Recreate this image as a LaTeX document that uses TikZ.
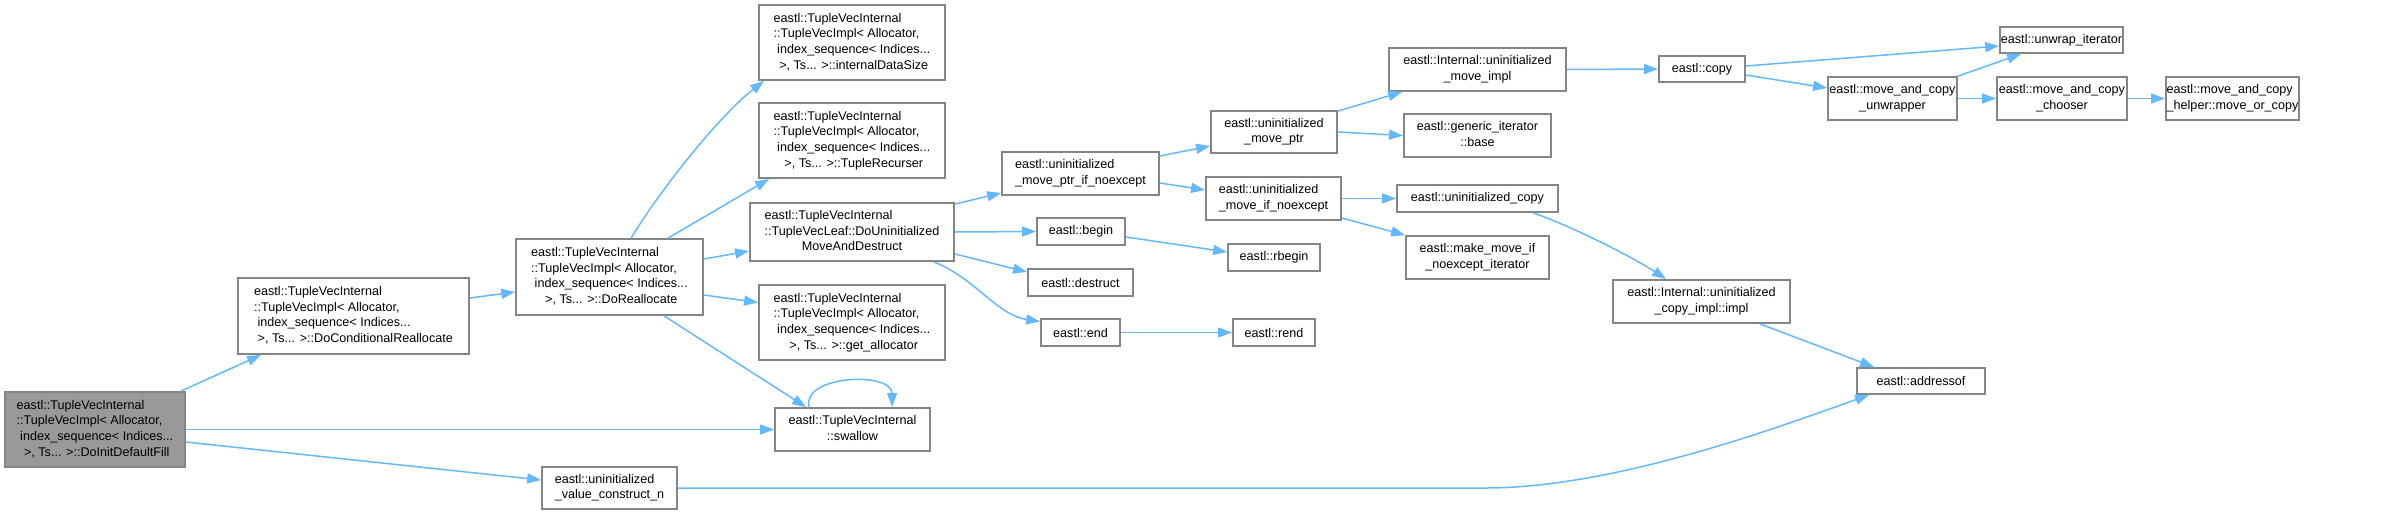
\documentclass[tikz,border=0pt]{standalone}
\usepackage{fontspec}
\setmainfont{Liberation Sans}
\usetikzlibrary{arrows.meta,calc}
\definecolor{edgeblue}{HTML}{63B8FF}
\definecolor{boxgray}{HTML}{858585}
\definecolor{rootfill}{HTML}{999999}
\newcommand\ltab[1]{\begin{tabular}{@{}l@{}}#1\end{tabular}}
\newcommand\lc[1]{\multicolumn{1}{@{}c@{}}{#1}}
\newcommand\gbox[7][]{\node[box,#1,minimum width={(#5-#3)*0.5pt},minimum height={(#6-#4)*0.5pt}] (#2) at ({(#3+#5)/2},{(#4+#6)/2}) {#7};}
\begin{document}
\begin{tikzpicture}[x=0.5pt,y=-0.5pt,
  box/.style={draw=boxgray,line width=0.9pt,fill=white,inner sep=0pt,font=\fontsize{6.3}{7.85}\selectfont},
  rootbox/.style={fill=rootfill},
  edge/.style={draw=edgeblue,line width=0.75pt,-{Triangle[length=7pt,width=5pt]}}]
\useasboundingbox (0,0) rectangle (2400,515);
\gbox[rootbox]{root}{5}{392}{185}{467}{\ltab{eastl::TupleVecInternal\\::TupleVecImpl< Allocator,\\\ index\_sequence< Indices...\\\lc{\ >, Ts... >::DoInitDefaultFill}}}
\gbox{DCR}{238}{278}{469}{354}{\ltab{eastl::TupleVecInternal\\::TupleVecImpl< Allocator,\\\ index\_sequence< Indices...\\\lc{\ >, Ts... >::DoConditionalReallocate}}}
\gbox{DR}{516}{239}{703}{315}{\ltab{eastl::TupleVecInternal\\::TupleVecImpl< Allocator,\\\ index\_sequence< Indices...\\\lc{\ >, Ts... >::DoReallocate}}}
\gbox{IDS}{759}{5}{945}{80}{\ltab{eastl::TupleVecInternal\\::TupleVecImpl< Allocator,\\\ index\_sequence< Indices...\\\lc{\ >, Ts... >::internalDataSize}}}
\gbox{TR}{759}{103}{945}{178}{\ltab{eastl::TupleVecInternal\\::TupleVecImpl< Allocator,\\\ index\_sequence< Indices...\\\lc{\ >, Ts... >::TupleRecurser}}}
\gbox{DUMAD}{750}{203}{954}{261}{\ltab{eastl::TupleVecInternal\\::TupleVecLeaf::DoUninitialized\\\lc{MoveAndDestruct}}}
\gbox{GA}{759}{285}{945}{360}{\ltab{eastl::TupleVecInternal\\::TupleVecImpl< Allocator,\\\ index\_sequence< Indices...\\\lc{\ >, Ts... >::get\_allocator}}}
\gbox{SW}{775}{408}{930}{451}{\ltab{eastl::TupleVecInternal\\\lc{::swallow}}}
\gbox{UVCN}{542}{467}{677}{509}{\ltab{eastl::uninitialized\\\lc{\_value\_construct\_n}}}
\gbox{MPIN}{1002}{152}{1159}{195}{\ltab{eastl::uninitialized\\\lc{\_move\_ptr\_if\_noexcept}}}
\gbox{BEGIN}{1037}{218}{1125}{245}{eastl::begin}
\gbox{DESTR}{1028}{269}{1133}{296}{eastl::destruct}
\gbox{END}{1041}{319}{1120}{346}{eastl::end}
\gbox{MP}{1211}{111}{1337}{153}{\ltab{eastl::uninitialized\\\lc{\_move\_ptr}}}
\gbox{MIN}{1206}{177}{1341}{220}{\ltab{eastl::uninitialized\\\lc{\_move\_if\_noexcept}}}
\gbox{RBEGIN}{1228}{244}{1320}{271}{eastl::rbegin}
\gbox{REND}{1233}{319}{1315}{346}{eastl::rend}
\gbox{UMI}{1389}{48}{1566}{91}{\ltab{eastl::Internal::uninitialized\\\lc{\_move\_impl}}}
\gbox{GIB}{1404}{114}{1551}{157}{\ltab{eastl::generic\_iterator\\\lc{::base}}}
\gbox{UC}{1397}{185}{1558}{212}{eastl::uninitialized\_copy}
\gbox{MMNI}{1406}{236}{1549}{279}{\ltab{eastl::make\_move\_if\\\lc{\_noexcept\_iterator}}}
\gbox{COPY}{1659}{56}{1745}{82}{eastl::copy}
\gbox{UCI}{1613}{280}{1790}{323}{\ltab{eastl::Internal::uninitialized\\\lc{\_copy\_impl::impl}}}
\gbox{ADDR}{1857}{368}{1985}{394}{eastl::addressof}
\gbox{UWI}{2000}{27}{2123}{53}{eastl::unwrap\_iterator}
\gbox{MACU}{1828}{77}{1957}{120}{\ltab{eastl::move\_and\_copy\\\lc{\_unwrapper}}}
\gbox{MACC}{1997}{77}{2127}{120}{\ltab{eastl::move\_and\_copy\\\lc{\_chooser}}}
\gbox{MACH}{2166}{77}{2299}{120}{\ltab{eastl::move\_and\_copy\\\lc{\_helper::move\_or\_copy}}}
% edges
\draw[edge] ($(root.north east)+(-5,0)$) -- ($(DCR.south west)+(24,0)$);
\draw[edge] (root.east) -- (SW.west);
\draw[edge] ($(root.east)+(0,12.5)$) -- ($(UVCN.west)+(0,-8)$);
\draw[edge] ($(DCR.east)+(0,-18)$) -- ($(DR.west)+(0,15)$);
\draw[edge] ($(DR.north west)+(116,0)$) .. controls (660,190) and (720,115) .. ($(IDS.south west)+(6,0)$);
\draw[edge] ($(DR.north west)+(153,0)$) -- ($(TR.south west)+(11,0)$);
\draw[edge] ($(DR.east)+(0,-18)$) -- ($(DUMAD.west)+(0,19)$);
\draw[edge] ($(DR.east)+(0,18)$) -- ($(GA.west)+(0,-20)$);
\draw[edge] ($(DR.south west)+(149,0)$) -- ($(SW.north west)+(32,0)$);
\draw[edge] ($(SW.north west)+(35,0)$) .. controls +(-8,-32) and +(0,-36) .. ($(SW.north west)+(118,0)$);
\draw[edge] ($(DUMAD.north east)+(0,2)$) -- ($(MPIN.west)+(0,19.5)$);
\draw[edge] (DUMAD.east) -- (BEGIN.west);
\draw[edge] ($(DUMAD.east)+(0,22)$) -- ($(DESTR.west)+(0,-10.5)$);
\draw[edge] ($(DUMAD.south east)+(-21,0)$) .. controls (975,278) and (997,315) .. ($(END.west)+(0,-11)$);
\draw[edge] ($(MPIN.east)+(0,-17.5)$) -- ($(MP.west)+(0,14)$);
\draw[edge] ($(MPIN.east)+(0,9.5)$) -- ($(MIN.west)+(0,-8.5)$);
\draw[edge] ($(BEGIN.east)+(0,5.5)$) -- ($(RBEGIN.west)+(0,-5.5)$);
\draw[edge] (END.east) -- (REND.west);
\draw[edge] ($(MP.north east)+(0,1)$) -- ($(UMI.south west)+(14,0)$);
\draw[edge] (MP.east) -- (GIB.west);
\draw[edge] (MIN.east) -- (UC.west);
\draw[edge] ($(MIN.east)+(0,19.5)$) -- (MMNI.north west);
\draw[edge] (UMI.east) -- (COPY.west);
\draw[edge] ($(COPY.east)+(0,-3)$) -- ($(UWI.west)+(0,6)$);
\draw[edge] ($(COPY.east)+(0,6)$) -- ($(MACU.west)+(0,-10.5)$);
\draw[edge] (MACU.north east) -- ($(UWI.south west)+(22,0)$);
\draw[edge] (MACU.east) -- (MACC.west);
\draw[edge] (MACC.east) -- (MACH.west);
\draw[edge] ($(UC.south)+(55.5,0)$) .. controls (1573,226.5) and (1634,258) .. ($(UCI.north west)+(54,0)$);
\draw[edge] ($(UCI.south)+(58.5,0)$) -- ($(ADDR.north west)+(18,0)$);
\draw[edge] (UVCN.east) -- ++(807,0) .. controls +(130,0) and +(-90,32) .. ($(ADDR.south west)+(13,0)$);
\end{tikzpicture}
\end{document}
